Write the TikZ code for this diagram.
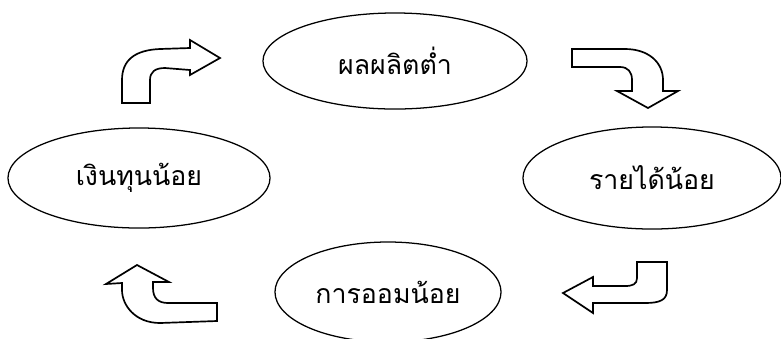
\documentclass[tikz,border=0pt]{standalone}
\usepackage{fontspec}
\usepackage{tikz}
\usetikzlibrary{shapes.geometric}
\newfontfamily\thaifont[Script=Thai]{Loma}

\begin{document}
\begin{tikzpicture}[x=0.025cm, y=-0.025cm, thick,
    bubble/.style={ellipse, draw, line width=0.9pt, inner sep=0pt, font=\thaifont\fontsize{19pt}{22pt}\selectfont},
    turn/.style={draw, line width=1.2pt, line join=miter, fill=white}]
    \useasboundingbox (0,0) rectangle (781,338);

    % Nodes
    \node (Output) [bubble, minimum width=6.6cm, minimum height=2.4cm] at (395,61) {ผลผลิตต่ำ};
    \node (Income) [bubble, minimum width=6.45cm, minimum height=2.55cm] at (652,178) {รายได้น้อย};
    \node (Saving) [bubble, minimum width=5.65cm, minimum height=2.5cm] at (388,292) {การออมน้อย};
    \node (Capital) [bubble, minimum width=6.55cm, minimum height=2.5cm] at (139,178) {เงินทุนน้อย};

    % Arrows
    \draw [turn] (122,103) -- (122,80) .. controls (122,60) and (135,50) .. (160,49) -- (190,48)
        -- (190,40) -- (220,58) -- (190,75) -- (190,70) -- (165,68)
        .. controls (155,68) and (150,72) .. (150,80) -- (150,103) -- cycle;
    \draw [turn] (572,49) -- (625,49) .. controls (648,49) and (663,62) .. (663,80) -- (663,91)
        -- (678,91) -- (648,108) -- (617,91) -- (632,91) -- (632,80)
        .. controls (632,72) and (628,67) .. (620,67) -- (572,67) -- cycle;
    \draw [turn] (637,262) -- (667,262) -- (667,290) .. controls (667,300) and (660,303) .. (645,303)
        -- (593,303) -- (593,313) -- (563,293) -- (593,277) -- (593,286) -- (625,286)
        .. controls (633,286) and (637,284) .. (637,278) -- cycle;
    \draw [turn] (217,303) -- (217,321) -- (160,323) .. controls (135,323) and (122,305) .. (122,290)
        -- (122,283) -- (106,284) -- (137,265) -- (169,282) -- (153,282) -- (153,288)
        .. controls (153,298) and (158,303) .. (168,303) -- cycle;

\end{tikzpicture}
\end{document}
